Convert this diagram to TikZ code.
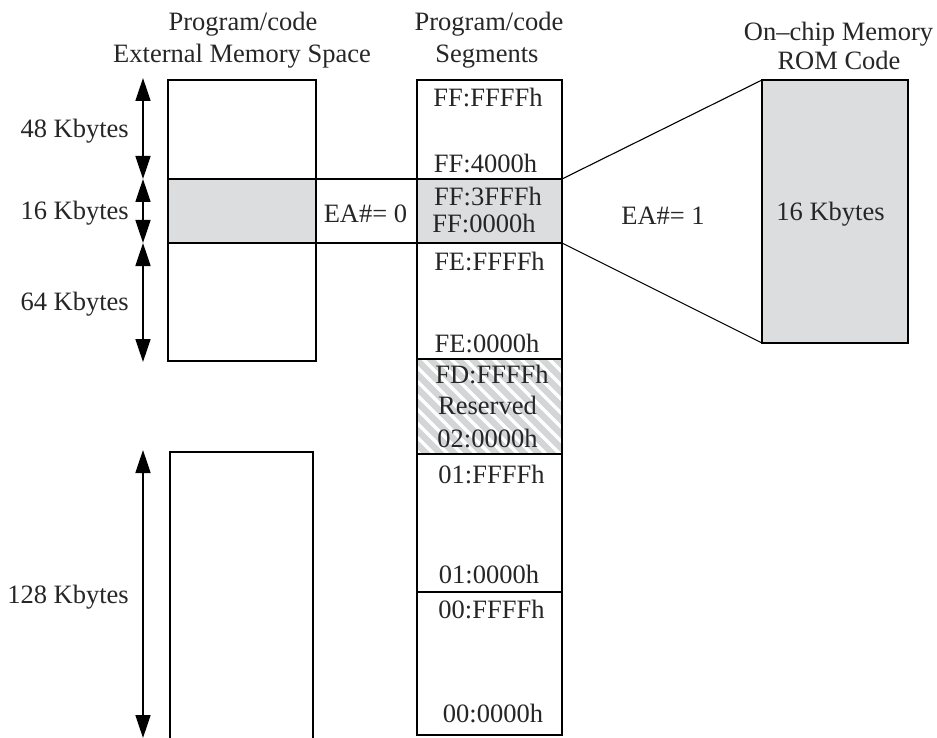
\documentclass[tikz,border=0pt]{standalone}
\usepackage{fontspec}
\setmainfont{Liberation Serif}
\usetikzlibrary{arrows.meta}
\definecolor{memgray}{RGB}{220,221,223}
\definecolor{hatchgray}{RGB}{212,213,215}
\begin{document}
\begin{tikzpicture}[x=1pt,y=-1pt,
  font=\fontsize{26.5}{30}\selectfont,
  lab/.style={anchor=base,inner sep=0pt,text=black!85},
  rlab/.style={anchor=base east,inner sep=0pt,text=black!85},
  membox/.style={draw,line width=1.1pt,inner sep=0pt,outer sep=0pt},
  thin/.style={line width=1.1pt},
  dimarrow/.style={line width=1.6pt,{Triangle[length=23pt,width=15pt]}-{Triangle[length=23pt,width=15pt]}}]
\useasboundingbox (0,0) rectangle (937,738);
% fills
\fill[memgray] (168,179) rectangle (316,243);
\fill[memgray] (417,179) rectangle (562,243);
\fill[memgray] (762,80) rectangle (908,343);
\fill[hatchgray] (417,359) rectangle (562,454);
\begin{scope}
  \clip (417,359) rectangle (562,454);
  \foreach \k in {-130,-116,...,170}{
    \draw[white,line width=3.4pt] (417+\k,349) -- (417+\k+120,469);
  }
\end{scope}
% boxes
\node[membox,minimum width=148pt,minimum height=281pt] (ext) at (242,220.5) {};
\node[membox,minimum width=145pt,minimum height=655pt] (seg) at (489.5,407.5) {};
\node[membox,minimum width=146pt,minimum height=263pt] (rom) at (835,211.5) {};
\coordinate (e2bl) at (170,738);
\coordinate (e2tl) at (170,452);
\coordinate (e2tr) at (313,452);
\coordinate (e2br) at (313,738);
\draw[thin] (e2bl) -- (e2tl) -- (e2tr) -- (e2br);
% band lines
\draw[thin] (ext.west |- 0,179) -- (seg.east |- 0,179);
\draw[thin] (ext.west |- 0,243) -- (seg.east |- 0,243);
\draw[thin] (seg.west |- 0,359) -- (seg.east |- 0,359);
\draw[thin] (seg.west |- 0,454) -- (seg.east |- 0,454);
\draw[thin] (seg.west |- 0,592) -- (seg.east |- 0,592);
% projection lines
\draw[thin] (seg.east |- 0,179) -- (rom.north west);
\draw[thin] (seg.east |- 0,243) -- (rom.south west);
% dimension arrows
\coordinate (a0) at (143,78);
\coordinate (a1) at (143,179);
\coordinate (a2) at (143,243);
\coordinate (a3) at (143,362);
\coordinate (b0) at (143,450);
\coordinate (b1) at (143,738);
\draw[dimarrow] (a0) -- (a1);
\draw[dimarrow] (a1) -- (a2);
\draw[dimarrow] (a2) -- (a3);
\draw[dimarrow] (b0) -- (b1);
% titles
\node[lab] (t1a) at (243,31) {Program/code};
\node[lab] (t1b) at (242,63) {External Memory Space};
\node[lab] (t2a) at (489,31) {Program/code};
\node[lab] (t2b) at (487,63) {Segments};
\node[lab] (t3a) at (838.5,41) {On--chip Memory};
\node[lab] (t3b) at (839,70) {ROM Code};
% sizes
\node[rlab] (k48) at (129,138) {48 Kbytes};
\node[rlab] (k16) at (129,219) {16 Kbytes};
\node[rlab] (k64) at (129,310) {64 Kbytes};
\node[rlab] (k128) at (129,603) {128 Kbytes};
\node[lab] (ea0) at (365.5,223) {EA\#= 0};
\node[lab] (ea1) at (663,225) {EA\#= 1};
\node[lab] (r16) at (830.5,221) {16 Kbytes};
% segment addresses
\node[lab] (s1) at (488,107) {FF:FFFFh};
\node[lab] (s2) at (485.5,173) {FF:4000h};
\node[lab] (s3) at (488,206) {FF:3FFFh};
\node[lab] (s4) at (484,233) {FF:0000h};
\node[lab] (s5) at (489.5,270) {FE:FFFFh};
\node[lab] (s6) at (487,352) {FE:0000h};
\node[lab] (s7) at (492,383) {FD:FFFFh};
\node[lab] (s8) at (487.5,414) {Reserved};
\node[lab] (s9) at (487.5,447) {02:0000h};
\node[lab] (s10) at (491.5,483) {01:FFFFh};
\node[lab] (s11) at (489,583) {01:0000h};
\node[lab] (s12) at (491.5,618) {00:FFFFh};
\node[lab] (s13) at (493,722) {00:0000h};
\end{tikzpicture}
\end{document}
